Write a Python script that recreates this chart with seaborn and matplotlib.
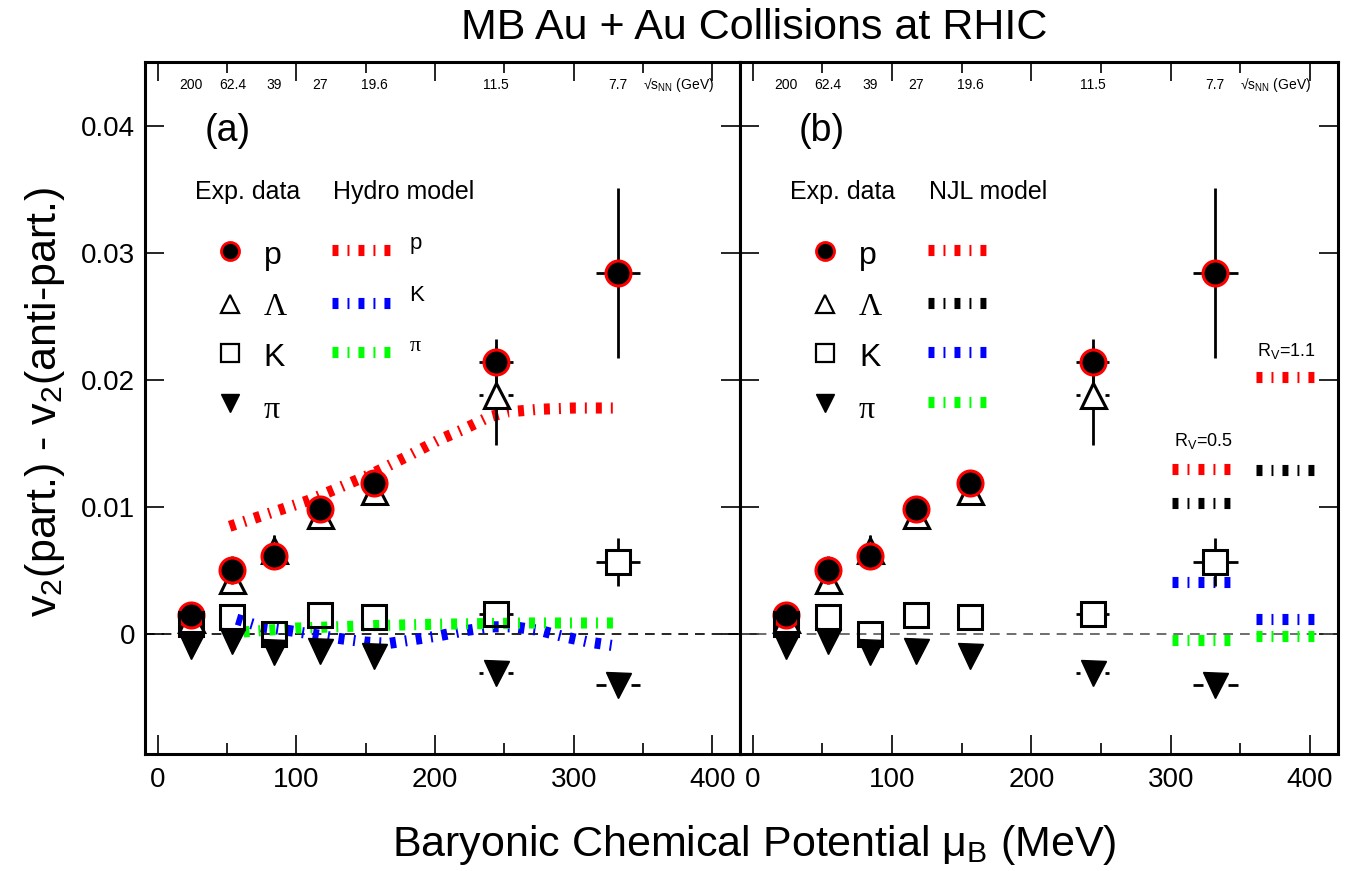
import matplotlib
matplotlib.use("Agg")
import matplotlib.pyplot as plt
import seaborn as sns
from matplotlib.ticker import MultipleLocator, NullLocator

# collision energies (top labels) and baryonic chemical potential
energy_labels = ["200", "62.4", "39", "27", "19.6", "11.5", "7.7"]
mu_b = [24, 54, 84, 117, 156, 244, 332]
mu_b_err = [2, 4, 6, 7, 8, 12, 16]

# v2(part.) - v2(anti-part.) measurements
p_dv2 = [0.0015, 0.0051, 0.0062, 0.0099, 0.0119, 0.0214, 0.0284]
p_err = [0.0008, 0.0011, 0.0010, 0.0008, 0.0009, 0.0018, 0.0067]
lam_mu_b = [24, 54, 84, 117, 156, 244]
lam_mu_b_err = [2, 4, 6, 7, 8, 12]
lam_dv2 = [0.0012, 0.0043, 0.0066, 0.0094, 0.0113, 0.0188]
lam_err = [0.0009, 0.0009, 0.0012, 0.0009, 0.0009, 0.0039]
k_dv2 = [0.0008, 0.0014, 0.0000, 0.0015, 0.0014, 0.0016, 0.0057]
k_err = [0.0005, 0.0005, 0.0005, 0.0005, 0.0005, 0.0007, 0.0019]
pi_dv2 = [-0.0009, -0.0005, -0.0014, -0.0013, -0.0017, -0.0030, -0.0040]
pi_err = [0.0004, 0.0004, 0.0004, 0.0004, 0.0005, 0.0006, 0.0008]

# hydro model curves (panel a)
hydro_p_x = [52, 80, 108, 130, 156, 180, 203, 220, 239, 253, 275, 300, 331]
hydro_p_y = [0.0085, 0.0095, 0.0105, 0.0115, 0.0127, 0.0140, 0.0153, 0.0161,
             0.0171, 0.0175, 0.0177, 0.0178, 0.0178]
hydro_k_x = [57, 75, 95, 113, 130, 150, 167, 185, 203, 222, 240, 257, 276, 294, 311, 330]
hydro_k_y = [0.0012, 0.0006, 0.0003, 0.0000, -0.0003, -0.0006, -0.0007, -0.0004,
             -0.0001, 0.0003, 0.0006, 0.0006, 0.0003, -0.0002, -0.0006, -0.0009]
hydro_pi_x = [62, 100, 157, 200, 265, 330]
hydro_pi_y = [0.0002, 0.0005, 0.0007, 0.0008, 0.0009, 0.0009]

# NJL model values (panel b): p, Lambda, K, pi
njl_rv05_x = [301, 343]
njl_rv11_x = [361, 403]
njl_rv05 = [0.0130, 0.0103, 0.0041, -0.0004]
njl_rv11 = [0.0202, 0.0129, 0.0012, -0.0001]
njl_colors = ["#ff0000", "#000000", "#0000ff", "#00ff00"]

y_ticks = [0, 0.01, 0.02, 0.03, 0.04]
y_tick_labels = ["0", "0.01", "0.02", "0.03", "0.04"]
x_ticks = [0, 100, 200, 300, 400]

sns.set_theme(style="ticks")
plt.rcParams["font.family"] = ["Liberation Sans", "DejaVu Sans"]
plt.rcParams["mathtext.default"] = "regular"
plt.rcParams["lines.scale_dashes"] = False
for key in ["text.color", "axes.labelcolor", "xtick.color", "ytick.color", "axes.edgecolor"]:
    plt.rcParams[key] = "black"

MODEL_DASH = (0, (4.3, 6.5, 1.4, 6.5))
MODEL_LW = 8
SERIF = ["Liberation Serif", "DejaVu Serif"]

fig = plt.figure(figsize=(13.57, 8.71), dpi=100)
ax_a = fig.add_axes([0.1069, 0.1343, 0.4385, 0.7945])
ax_b = fig.add_axes([0.5453, 0.1343, 0.4407, 0.7945])


def setup_axes(ax, ylabels):
    ax.set_xlim(-9, 420)
    ax.set_ylim(-0.0094, 0.0450)
    ax.set_xticks(x_ticks)
    ax.xaxis.set_minor_locator(MultipleLocator(50))
    ax.set_yticks(y_ticks)
    ax.yaxis.set_minor_locator(NullLocator())
    ax.tick_params(which="both", direction="in", top=True, right=True,
                   width=1.2, color="black", labelsize=20, pad=9)
    ax.tick_params(which="major", length=14)
    ax.tick_params(which="minor", length=8)
    if ylabels:
        ax.set_yticklabels(y_tick_labels)
        ax.tick_params(axis="y", pad=7)
    else:
        ax.tick_params(labelleft=False)
    for s in ax.spines.values():
        s.set_linewidth(2.2)
        s.set_color("black")
    ax.set_facecolor("white")
    ax.grid(False)
    # energy labels along the top
    tr = ax.get_xaxis_transform()
    for xv, lab in zip(mu_b, energy_labels):
        ax.text(xv, 0.967, lab, transform=tr, ha="center", va="center", fontsize=10)
    ax.text(350, 0.967, "√s$_{NN}$ (GeV)", transform=tr, ha="left", va="center",
            fontsize=10)


def outer_errbars(ax, x, y, xe, ye, half_pt):
    # error bars drawn only outside the marker body
    x0, x1 = ax.get_xlim()
    y0, y1 = ax.get_ylim()
    half_px = half_pt * fig.dpi / 72.0
    gx = half_px / (ax.bbox.width / (x1 - x0))
    gy = half_px / (ax.bbox.height / (y1 - y0))
    for xi, yi, xei, yei in zip(x, y, xe, ye):
        if yei > gy:
            ax.vlines([xi, xi], [yi + gy, yi - yei], [yi + yei, yi - gy],
                      color="black", lw=2, zorder=8)
        if xei > gx:
            ax.hlines([yi, yi], [xi + gx, xi - xei], [xi + xei, xi - gx],
                      color="black", lw=2, zorder=8)


def draw_data(ax):
    ax.axhline(0, color="black" if ax is ax_a else "#555555",
               ls=(0, (7, 5)), lw=1.2, zorder=1)
    outer_errbars(ax, lam_mu_b, lam_dv2, lam_mu_b_err, lam_err, 9)
    ax.plot(lam_mu_b, lam_dv2, ls="none", marker="^", ms=18, mfc="none",
            mec="black", mew=2.2, zorder=9)
    outer_errbars(ax, mu_b, p_dv2, mu_b_err, p_err, 9)
    ax.plot(mu_b, p_dv2, ls="none", marker="o", ms=18, mfc="black",
            mec="#ff0000", mew=2.2, zorder=10)
    outer_errbars(ax, mu_b, k_dv2, mu_b_err, k_err, 8.5)
    ax.plot(mu_b, k_dv2, ls="none", marker="s", ms=17, mfc="none",
            mec="black", mew=2.2, zorder=11)
    outer_errbars(ax, mu_b, pi_dv2, mu_b_err, pi_err, 9)
    ax.plot(mu_b, pi_dv2, ls="none", marker="v", ms=18, mfc="black",
            mec="black", mew=1, zorder=12)


def draw_legend(ax, model_name, model_colors, model_labels):
    ta = ax.transAxes
    ax.text(0.084, 0.812, "Exp. data", transform=ta, fontsize=18, va="center")
    ax.text(0.316, 0.812, model_name, transform=ta, fontsize=18, va="center")
    ys = [0.727, 0.651, 0.580, 0.507]
    ax.plot(0.142, ys[0], transform=ta, marker="o", ms=13, mfc="black", mec="#ff0000", mew=2)
    ax.plot(0.142, ys[1], transform=ta, marker="^", ms=13, mfc="none", mec="black", mew=1.6)
    ax.plot(0.142, ys[2], transform=ta, marker="s", ms=12.5, mfc="none", mec="black", mew=1.6)
    ax.plot(0.142, ys[3], transform=ta, marker="v", ms=13, mfc="black", mec="black", mew=1)
    ax.text(0.199, ys[0] - 0.019, "p", transform=ta, fontsize=23, va="baseline")
    ax.text(0.199, ys[1] - 0.016, "Λ", transform=ta, fontsize=23, va="baseline", family=SERIF)
    ax.text(0.199, ys[2] - 0.020, "K", transform=ta, fontsize=23, va="baseline")
    ax.text(0.199, ys[3] - 0.022, "π", transform=ta, fontsize=23, va="baseline", family=SERIF)
    for i, c in enumerate(model_colors):
        yl = ys[i] + 0.001
        ax.plot([0.314, 0.411], [yl, yl], transform=ta, color=c, lw=MODEL_LW,
                ls=MODEL_DASH, solid_capstyle="butt", dash_capstyle="butt")
        if model_labels:
            fam = SERIF if model_labels[i] == "π" else None
            ax.text(0.444, yl + 0.002, model_labels[i], transform=ta, fontsize=16,
                    va="baseline", family=fam)


setup_axes(ax_a, True)
setup_axes(ax_b, False)

# panel (a): hydro model
for xs, ys, c in [(hydro_p_x, hydro_p_y, "#ff0000"), (hydro_k_x, hydro_k_y, "#0000ff"),
                  (hydro_pi_x, hydro_pi_y, "#00ff00")]:
    sns.lineplot(x=xs, y=ys, ax=ax_a, color=c, lw=MODEL_LW, linestyle=MODEL_DASH,
                 sort=False, estimator=None, legend=False, zorder=5)
draw_data(ax_a)
draw_legend(ax_a, "Hydro model", ["#ff0000", "#0000ff", "#00ff00"], ["p", "K", "π"])
ax_a.text(0.100, 0.900, "(a)", transform=ax_a.transAxes, fontsize=27, va="center")

# panel (b): NJL model
for seg_x, vals in [(njl_rv05_x, njl_rv05), (njl_rv11_x, njl_rv11)]:
    for v, c in zip(vals, njl_colors):
        sns.lineplot(x=seg_x, y=[v, v], ax=ax_b, color=c, lw=MODEL_LW,
                     linestyle=MODEL_DASH, sort=False, estimator=None,
                     legend=False, zorder=5)
ax_b.text(302, 0.0152, "R$_V$=0.5", fontsize=13, ha="left", va="center")
ax_b.text(362, 0.0223, "R$_V$=1.1", fontsize=13, ha="left", va="center")
draw_data(ax_b)
draw_legend(ax_b, "NJL model", njl_colors, None)
ax_b.text(0.098, 0.900, "(b)", transform=ax_b.transAxes, fontsize=27, va="center")

for ax in (ax_a, ax_b):
    ax.set_xlabel("")
    ax.set_ylabel("")

fig.text(0.556, 0.968, "MB Au + Au Collisions at RHIC", ha="center", va="center", fontsize=31)
fig.text(0.556, 0.030, "Baryonic Chemical Potential μ$_B$ (MeV)", ha="center",
         va="center", fontsize=31)
fig.text(0.033, 0.538, "v$_2$(part.) - v$_2$(anti-part.)", ha="center", va="center",
         rotation=90, fontsize=31)

fig.savefig("out.png", dpi=100, facecolor="white")
